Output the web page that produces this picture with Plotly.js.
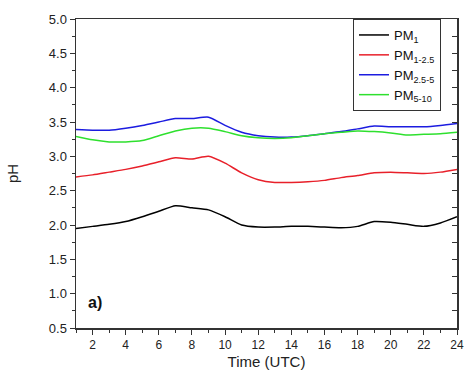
<!DOCTYPE html>
<html>
<head>
<meta charset="utf-8">
<script src="https://cdn.plot.ly/plotly-3.0.1.min.js"></script>
<style>html,body{margin:0;padding:0;background:#fff;}#chart{width:464px;height:378px;}</style>
</head>
<body>
<div id="chart"></div>
<script>
const hours = [1,2,3,4,5,6,7,8,9,10,11,12,13,14,15,16,17,18,19,20,21,22,23,24];
const pm1 = [1.95,1.98,2.01,2.05,2.12,2.20,2.28,2.25,2.22,2.12,2.00,1.97,1.97,1.98,1.98,1.97,1.96,1.98,2.05,2.04,2.01,1.98,2.03,2.12];
const pm1_25 = [2.70,2.73,2.77,2.81,2.86,2.92,2.98,2.96,3.00,2.90,2.76,2.66,2.62,2.62,2.63,2.65,2.69,2.72,2.76,2.77,2.76,2.75,2.77,2.81];
const pm25_5 = [3.39,3.38,3.38,3.41,3.45,3.50,3.55,3.55,3.57,3.45,3.35,3.30,3.28,3.28,3.30,3.33,3.36,3.40,3.44,3.43,3.43,3.43,3.45,3.48];
const pm5_10 = [3.29,3.24,3.21,3.21,3.23,3.30,3.37,3.41,3.41,3.36,3.30,3.27,3.26,3.27,3.30,3.33,3.35,3.37,3.36,3.34,3.31,3.32,3.33,3.35];
const seriesNames = ["PM<sub>1</sub>","PM<sub>1-2.5</sub>","PM<sub>2.5-5</sub>","PM<sub>5-10</sub>"];
const seriesColors = ["#000000","#e8202a","#1c1ce0","#2ee02e"];
const seriesData = [pm1, pm1_25, pm25_5, pm5_10];

const traces = seriesData.map((d,i)=>({
  x: hours, y: d, type:'scatter', mode:'lines', name: seriesNames[i],
  line:{color: seriesColors[i], width:1.5, shape:'spline', smoothing:0.6}
}));
// invisible trace for right-side inward ticks
traces.push({x:[1],y:[0.5],xaxis:'x',yaxis:'y2',mode:'markers',marker:{opacity:0},showlegend:false,hoverinfo:'skip'});

const font = {family:'"Liberation Sans", Arial, sans-serif', size:13, color:'#222'};
const layout = {
  width:464, height:378,
  margin:{l:76, r:7, t:19, b:50},
  paper_bgcolor:'#fff', plot_bgcolor:'#fff',
  font: font,
  showlegend:true,
  legend:{x:0.727, y:1, xanchor:'left', yanchor:'top', bgcolor:'#fff', bordercolor:'#333', borderwidth:1,
          font:{family:'"Liberation Sans", Arial, sans-serif', size:13, color:'#111'}, tracegroupgap:0},
  xaxis:{range:[1,24], tick0:0, dtick:2, ticks:'outside', ticklen:5, tickcolor:'#333', tickwidth:1,
         tickfont:{size:12},
         showline:true, linecolor:'#333', linewidth:1.5, mirror:true, showgrid:false, zeroline:false,
         minor:{dtick:1, tick0:0, ticks:'outside', ticklen:3, tickcolor:'#333', showgrid:false},
         title:{text:'Time (UTC)', font:{size:15, color:'#222'}, standoff:5}},
  yaxis:{range:[0.5,5.0], tick0:0, dtick:0.5, tickformat:'.1f', ticks:'outside', ticklen:5, tickcolor:'#333', tickwidth:1,
         showline:true, linecolor:'#333', linewidth:1.5, mirror:true, showgrid:false, zeroline:false,
         minor:{dtick:0.25, tick0:0, ticks:'outside', ticklen:3, tickcolor:'#333', showgrid:false},
         title:{text:'pH', font:{size:15, color:'#222'}, standoff:26}},
  yaxis2:{range:[0.5,5.0], overlaying:'y', side:'right', tick0:0, dtick:0.25, ticks:'inside', ticklen:5,
          tickcolor:'#333', showticklabels:false, showgrid:false, zeroline:false, showline:false},
  annotations:[{text:'<b>a)</b>', x:0.025, y:0.05, xref:'paper', yref:'paper', xanchor:'left', yanchor:'bottom',
                showarrow:false, font:{family:'"Liberation Sans", Arial, sans-serif', size:16, color:'#111'}}]
};
Plotly.newPlot('chart', traces, layout, {displayModeBar:false, staticPlot:true});
</script>
</body>
</html>
